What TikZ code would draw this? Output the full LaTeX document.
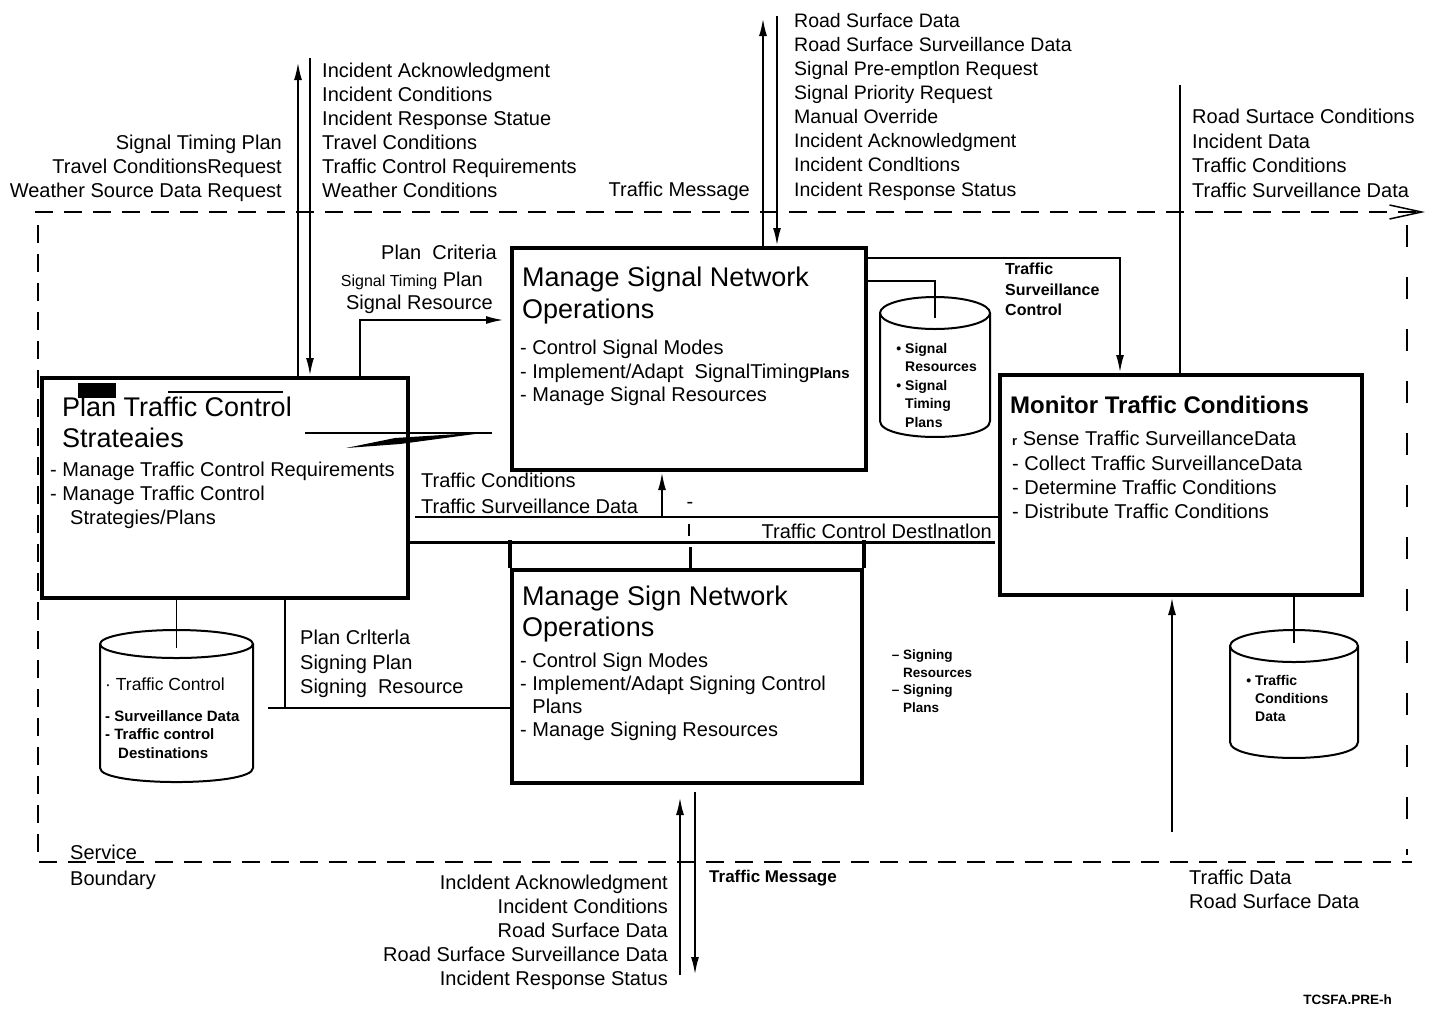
\documentclass[tikz,border=0pt]{standalone}
\usepackage{fontspec}
\setmainfont{Liberation Sans}
\usetikzlibrary{arrows.meta}

\begin{document}
\begin{tikzpicture}[x=1pt, y=-1pt,
        >={Latex[length=18pt,width=8pt]},
        prozess/.style={draw, line width=4pt, rectangle, inner sep=0pt},
        behaelter/.style={line width=2pt},
        txt/.style={font=\fontsize{20}{24}\selectfont, inner sep=0pt, align=left},
        titel/.style={font=\fontsize{27}{31}\selectfont, inner sep=0pt, align=left},
        klein/.style={font=\bfseries\fontsize{14}{18.5}\selectfont, inner sep=0pt, align=left},
        fluss/.style={line width=2.2pt},
        duenn/.style={line width=1.5pt},
        grenze/.style={line width=1.6pt, dash pattern=on 18pt off 11pt}]
        \useasboundingbox (0,0) rectangle (1439,1010);

        % zeichne Dienstgrenze
        \draw[grenze, -{Straight Barb[length=32pt,width=14pt,line width=1.5pt]}] (35,212) -- (1425,212);
        \draw[grenze] (38,225) -- (38,862) -- (1412,862);
        \draw[grenze, line width=1.2pt, dash pattern=on 22pt off 30pt] (1407,225) -- (1407,855);
        \node[txt, anchor=north west] (service) at (70,845) {Service};
        \node[txt, anchor=north west] (boundary) at (70,871) {Boundary};

        % zeichne Kaesten
        \node[prozess, minimum width=366pt, minimum height=220pt] (plan) at (225,488) {};
        \node[prozess, minimum width=354pt, minimum height=222pt] (signal) at (689,359) {};
        \node[prozess, minimum width=362pt, minimum height=220pt] (monitor) at (1181,485) {};
        \node[prozess, minimum width=350pt, minimum height=213pt] (schild) at (687,676.5) {};
        \draw[line width=4pt] (schild.north west) -- ++(0,-28);
        \draw[line width=4pt] (schild.north east) -- ++(0,-28);

        % zeichne Speicher
        \draw[behaelter] (176.5,644) ellipse [x radius=76.5, y radius=14];
        \draw[behaelter] (100,644) -- (100,768) .. controls (100,786.7) and (253,786.7) .. (253,768) -- (253,644);
        \coordinate (plancyl) at (176.5,648);
        \draw[behaelter] (935,313) ellipse [x radius=55, y radius=16];
        \draw[behaelter] (880,313) -- (880,421) .. controls (880,442.3) and (990,442.3) .. (990,421) -- (990,313);
        \coordinate (sigcyl) at (935,318);
        \draw[behaelter] (1294,646) ellipse [x radius=64, y radius=16];
        \draw[behaelter] (1230,646) -- (1230,742) .. controls (1230,763.3) and (1358,763.3) .. (1358,742) -- (1358,646);
        \coordinate (moncyl) at (1294,643);

        % Kastentexte
        \fill (78,383) rectangle (116,398);
        \draw[duenn] (168,392) -- (283,392);
        \node[titel, anchor=north west] (plantitel) at (62,397) {Plan Traffic Control\\Strateaies};
        \node[txt, anchor=north west] (planliste) at (50,462) {- Manage Traffic Control Requirements\\- Manage Traffic Control\\\hspace*{20pt}Strategies/Plans};
        \draw[duenn] (305,433) -- (492,433);
        \fill (346,448) -- (395,438) -- (490,432) -- (400,444) -- cycle;

        \node[titel, anchor=north west, font=\fontsize{27}{32}\selectfont] (sigtitel) at (522,267) {Manage Signal Network\\Operations};
        \node[txt, anchor=north west, font=\fontsize{20}{23.5}\selectfont] (sigliste) at (520,340) {- Control Signal Modes\\- Implement/Adapt\ \ SignalTiming{\bfseries\fontsize{15}{18}\selectfont Plans}\\- Manage Signal Resources};

        \node[titel, anchor=north west, font=\bfseries\fontsize{24}{28}\selectfont] (montitel) at (1010,396) {Monitor Traffic Conditions};
        \node[txt, anchor=north west, font=\fontsize{20}{24.3}\selectfont] (monliste) at (1012,431) {{\bfseries\fontsize{13}{13}\selectfont r} Sense Traffic SurveillanceData\\- Collect Traffic SurveillanceData\\- Determine Traffic Conditions\\- Distribute Traffic Conditions};

        \node[titel, anchor=north west] (schildtitel) at (522,586) {Manage Sign Network\\Operations};
        \node[txt, anchor=north west, font=\fontsize{20}{23}\selectfont] (schildliste) at (520,653) {- Control Sign Modes\\- Implement/Adapt Signing Control\\\phantom{- }Plans\\- Manage Signing Resources};

        % Speichertexte
        \node[txt, anchor=north west, font=\fontsize{17.5}{21}\selectfont] (plancyltxt) at (105,678) {·\ Traffic Control};
        \node[klein, anchor=north west, font=\bfseries\fontsize{15}{18.5}\selectfont] (plancylliste) at (105,710) {- Surveillance Data\\- Traffic control\\\hspace*{13pt}Destinations};
        \node[klein, anchor=north west] (sigcyltxt) at (905,343) {\llap{\textbullet\ }Signal\\Resources\\\llap{\textbullet\ }Signal\\Timing\\Plans};
        \node[klein, anchor=north west, font=\bfseries\fontsize{14}{18}\selectfont] (moncyltxt) at (1255,675) {\llap{\textbullet\ }Traffic\\Conditions\\Data};
        \node[klein, anchor=north west, font=\bfseries\fontsize{13.5}{17.5}\selectfont] (signing) at (903,650) {\llap{-- }Signing\\Resources\\\llap{-- }Signing\\Plans};

        % Pfeile oben links
        \coordinate (ol1) at (298,62);
        \coordinate (ol2) at (310,58);
        \draw[fluss, ->] (plan.north -| ol1) -- (ol1);
        \draw[fluss, ->] (ol2) -- (plan.north -| ol2);
        \node[txt, anchor=north east, align=right] (olinks) at (282,135) {Signal Timing Plan\\Travel ConditionsRequest\\Weather Source Data Request};
        \node[txt, anchor=north west] (orechts) at (322,63) {Incident Acknowledgment\\Incident Conditions\\Incident Response Statue\\Travel Conditions\\Traffic Control Requirements\\Weather Conditions};

        % Pfeile oben mitte
        \coordinate (om1) at (763,18);
        \coordinate (om2) at (777,16);
        \draw[fluss, ->] (signal.north -| om1) -- (om1);
        \draw[fluss, ->] (om2) -- (signal.north -| om2);
        \node[txt, anchor=north east] (tmsg) at (750,182) {Traffic Message};
        \node[txt, anchor=north west, font=\fontsize{19.5}{24.1}\selectfont] (omitte) at (794,13) {Road Surface Data\\Road Surface Surveillance Data\\Signal Pre-emptlon Request\\Signal Priority Request\\Manual Override\\Incident Acknowledgment\\Incident Condltions\\Incident Response Status};

        % Linie oben rechts
        \coordinate (or1) at (1180,85);
        \draw[fluss] (monitor.north -| or1) -- (or1);
        \node[txt, anchor=north west, font=\fontsize{20}{24.6}\selectfont] (oreoben) at (1192,109) {Road Surtace Conditions\\Incident Data\\Traffic Conditions\\Traffic Surveillance Data};

        % Plan nach Signal
        \coordinate (knick1) at (360,320);
        \draw[fluss, ->, shorten >=6pt] (plan.north -| knick1) -- (knick1) -- (knick1 -| signal.west);
        \node[txt, anchor=north east] (pcrit) at (497,245) {Plan\ \ Criteria};
        \node[txt, anchor=north east] (stplan) at (483,272) {{\fontsize{16}{24}\selectfont Signal Timing} Plan};
        \node[txt, anchor=north east] (sres) at (493,295) {Signal Resource};

        % Signal nach Monitor und Speicher
        \coordinate (knick2) at (1120,258);
        \draw[fluss, ->] (signal.east |- knick2) -- (knick2) -- (knick2 |- monitor.north);
        \node[klein, anchor=north west, font=\bfseries\fontsize{16}{20.5}\selectfont] (tsc) at (1005,263) {Traffic\\Surveillance\\Control};
        \coordinate (knick3) at (935,281);
        \draw[duenn] (signal.east |- knick3) -- (knick3) -- (sigcyl);

        % Querverbindungen
        \coordinate (quer1) at (415,517);
        \draw[fluss] (quer1) -- (quer1 -| monitor.west);
        \coordinate (hoch1) at (662,517);
        \draw[fluss, ->] (hoch1) -- (hoch1 |- signal.south);
        \node[txt, anchor=north west, font=\fontsize{20}{26}\selectfont] (tcond) at (421,473) {Traffic Conditions\\Traffic Surveillance Data};
        \node[txt] (strich) at (690,505) {-};
        \coordinate (quer2) at (995,542);
        \draw[line width=3pt] (plan.east |- quer2) -- (quer2);
        \node[txt, anchor=north east] (tcd) at (992,524) {Traffic Control Destlnatlon};
        \coordinate (stich) at (690,547);
        \draw[line width=3pt] (schild.north -| stich) -- (stich);
        \coordinate (tick1) at (689,524);
        \draw[duenn] (tick1) -- ++(0,12);

        % Plan nach Speicher und Schild
        \draw[duenn] (plan.south -| plancyl) -- (plancyl);
        \coordinate (knick4) at (285,708);
        \coordinate (start4) at (268,708);
        \draw[fluss] (plan.south -| knick4) -- (knick4);
        \draw[fluss] (start4) -- (start4 -| schild.west);
        \node[txt, anchor=north west, font=\fontsize{20}{24.5}\selectfont] (pcrit2) at (300,630) {Plan Crlterla\\Signing Plan\\Signing\ \ Resource};

        % Monitor unten
        \draw[duenn] (monitor.south -| moncyl) -- (moncyl);
        \coordinate (ur1) at (1172,832);
        \draw[fluss, ->] (ur1) -- (ur1 |- monitor.south);
        \node[txt, anchor=north west] (tdata) at (1189,870) {Traffic Data\\Road Surface Data};

        % Pfeile unten mitte
        \coordinate (um1) at (680,975);
        \coordinate (um2) at (695,975);
        \draw[fluss, ->, shorten >=12pt] (um1) -- (um1 |- schild.south);
        \draw[fluss, ->, shorten <=7pt] (schild.south -| um2) -- (um2);
        \node[txt, anchor=north east, align=right] (ulinks) at (668,875) {Incldent Acknowledgment\\Incident Conditions\\Road Surface Data\\Road Surface Surveillance Data\\Incident Response Status};
        \node[klein, anchor=north west, font=\bfseries\fontsize{17}{20}\selectfont] (tmsg2) at (709,870) {Traffic Message};

        % Kennung
        \node[klein, anchor=north east, font=\bfseries\fontsize{13.5}{16}\selectfont] (kennung) at (1392,994) {TCSFA.PRE-h};
    \end{tikzpicture}
\end{document}
